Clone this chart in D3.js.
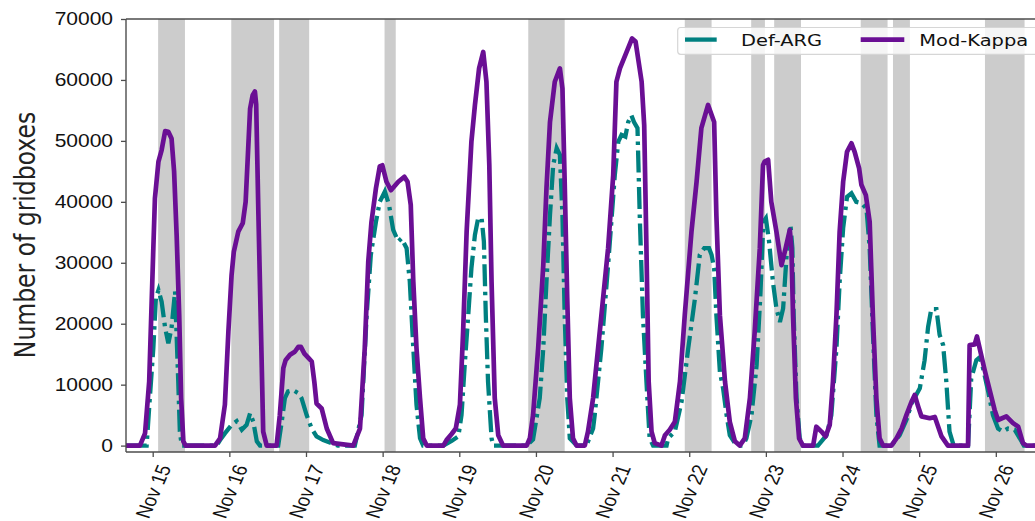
<!DOCTYPE html>
<html>
<head>
<meta charset="utf-8">
<script src="https://cdn.jsdelivr.net/npm/d3@7"></script>
<style>
  body { margin: 0; background: #fff; }
  svg { display: block; font-family: "DejaVu Sans", sans-serif; }
</style>
</head>
<body>
<div id="chart"></div>
<script>
// time is in hours after Nov 15 00:00
const modHours = [
  -8.4, -4.0, -2.4, -1.1, 0.2, 0.7, 1.8, 2.8, 3.9, 4.9, 5.9, 6.7, 7.5, 8.3, 8.9, 9.6, 10.3,
  19.5, 21.1, 22.6, 23.7, 24.7, 25.4, 26.8, 28.2, 29.1, 30.5, 31.3, 32.0, 32.4, 33.1, 34.6, 35.7,
  38.8, 39.8, 40.9, 41.6, 43.0, 44.5, 45.6, 46.4, 47.5, 48.9, 49.8, 50.6, 51.3, 52.9, 54.5, 56.5,
  62.8, 64.9, 66.4, 67.5, 68.5, 69.9, 71.1, 71.9, 73.2, 74.6, 76.9, 78.8, 79.8, 80.8, 81.6, 82.6, 83.7, 84.7, 85.8,
  91.0, 92.0, 93.6, 94.9, 96.2, 97.2, 98.3, 99.8, 100.9, 102.2, 103.5, 104.5, 105.4, 106.1, 107.1, 108.2, 109.7,
  117.1, 118.1, 119.1, 120.7, 122.3, 123.3, 124.4, 125.9, 127.5, 128.3, 129.0, 129.8, 130.6, 131.6, 132.7,
  135.3, 136.3, 137.9, 140.5, 142.6, 144.2, 145.2, 146.3, 148.4, 150.1, 151.2, 153.1, 153.9, 154.6, 155.3, 156.2, 157.2, 159.3,
  160.4, 161.9, 163.5, 165.1, 166.6, 168.7, 170.3, 171.8, 173.9, 175.8, 176.5, 177.6, 179.2, 180.7, 182.3, 183.8,
  185.4, 187.0, 188.5, 190.1, 191.1, 191.6, 192.7, 193.7, 195.3, 196.9, 198.2, 199.5, 200.0, 200.5, 201.4, 202.4, 203.6,
  206.8, 207.8, 209.4, 210.7, 212.0, 213.0, 214.1, 215.1, 216.2, 217.4, 218.8, 219.8, 221.2, 221.9, 223.3, 224.5, 225.5, 226.6, 227.6, 228.7,
  231.3, 232.9, 234.5, 236.0, 237.6, 238.6, 239.7, 240.7, 243.3, 244.9, 247.0, 249.0,
  255.3, 255.8, 257.4, 258.1, 260.5, 263.6, 264.7, 267.3, 269.4, 271.0, 272.5, 273.6, 280
];
const modValues = [
  0, 0, 2000, 10500, 32400, 40600, 46600, 48500, 51600, 51500, 50400, 45000, 34500, 21400, 7800, 700, 0,
  0, 1200, 6700, 18700, 28000, 31800, 35100, 36500, 40000, 55300, 57500, 58100, 56000, 38000, 2300, 0,
  0, 5000, 12700, 14000, 14900, 15400, 16200, 16200, 15100, 14300, 13800, 10500, 6900, 6100, 2800, 400,
  0, 2800, 16000, 30200, 36700, 42200, 45800, 46000, 43300, 41900, 43300, 44100, 43300, 39500, 26900, 16000, 7800, 1200, 0,
  0, 900, 1900, 2800, 6700, 18700, 35100, 49900, 55900, 61900, 64600, 59700, 46000, 26900, 7800, 1700, 0,
  0, 1200, 5000, 16000, 29600, 42200, 53100, 59700, 61900, 58600, 43300, 24200, 7800, 1200, 0,
  0, 2300, 7800, 21400, 32400, 44400, 59700, 61900, 64600, 66800, 66300, 59700, 52600, 32400, 10500, 2300, 400, 0,
  1700, 2600, 3900, 10500, 21400, 35100, 43300, 52100, 55900, 53100, 37800, 21400, 10500, 3900, 700, 0,
  1200, 7800, 18700, 32400, 46000, 46600, 46900, 40000, 35100, 29600, 32400, 35400, 32400, 21400, 7800, 1200, 0,
  0, 3100, 2300, 1500, 3400, 10500, 21400, 35100, 43300, 48200, 49600, 48200, 45500, 42800, 41100, 36700, 21400, 7800, 1200, 0,
  0, 1200, 2800, 5000, 7200, 8300, 6400, 4800, 4500, 4700, 1500, 0,
  0, 16500, 16600, 17900, 12400, 5900, 4200, 4800, 3700, 3100, 400, 0, 0
];

const defHours = [
  -8.4, -1.9, -0.9, 0.2, 1.0, 1.8, 2.8, 3.9, 4.9, 5.9, 7.0, 8.0, 8.5, 9.1,
  20.0, 21.1, 22.6, 24.7, 26.3, 27.9, 29.4, 30.5, 31.5, 32.6, 33.6,
  39.3, 40.4, 41.4, 42.4, 44.0, 45.6, 46.6, 48.2, 49.8, 51.3, 53.4, 56.0, 58.0,
  63.3, 65.4, 67.0, 68.3, 69.9, 71.1, 72.7, 74.0, 75.3, 76.9, 77.9, 79.5, 80.5, 81.6, 82.6, 83.7, 84.7,
  91.0, 93.7, 95.7, 96.7, 97.7, 98.8, 99.8, 100.9, 101.9, 103.0, 103.7, 104.3, 105.0, 106.1, 106.6,
  117.1, 119.1, 121.2, 122.3, 123.3, 124.4, 125.4, 126.5, 127.5, 128.3, 129.0, 129.8, 130.6, 132.8,
  135.8, 137.9, 138.4, 140.5, 142.6, 144.7, 145.8, 146.8, 148.0, 148.9, 149.9, 150.7, 151.8, 152.5, 153.5, 154.6, 155.6, 156.7,
  160.9, 161.4, 163.5, 165.6, 167.7, 169.8, 171.3, 172.7, 174.2, 175.0, 175.8, 176.5, 177.6, 178.6, 179.7, 180.7, 182.3, 183.3,
  184.8, 185.9, 187.5, 189.1, 190.3, 191.2, 192.0, 193.0, 194.2, 195.3, 196.4, 197.4, 198.5, 199.7, 200.3, 200.7, 201.6, 202.6, 203.6,
  208.3, 211.0, 212.5, 214.1, 215.1, 216.2, 217.4, 218.8, 220.3, 221.9, 223.5, 224.5, 225.5, 226.6, 227.6,
  231.3, 233.9, 236.0, 237.6, 240.2, 241.7, 242.8, 243.8, 245.4, 246.4, 247.5, 248.5, 249.5, 250.8,
  255.3, 256.3, 257.9, 259.0, 260.0, 261.6, 263.1, 264.7, 266.2, 267.8, 269.9, 271.5, 272.8, 280
];
const defValues = [
  0, 0, 7800, 16000, 24200, 25500, 23600, 19300, 16800, 19300, 25300, 10500, 2300, 0,
  0, 900, 2000, 3400, 4000, 2600, 3400, 5300, 3900, 700, 0,
  0, 3900, 7800, 8900, 9100, 8600, 7800, 5000, 2800, 1500, 900, 400, 0,
  0, 5000, 21400, 31300, 36700, 40000, 41700, 39500, 35400, 33500, 34000, 32400, 26900, 16000, 6700, 1200, 0,
  0, 800, 1500, 5000, 13200, 21400, 29100, 34600, 37300, 37300, 33500, 21400, 10500, 1200, 0,
  0, 1000, 7800, 16000, 26900, 37800, 46000, 48800, 47700, 37800, 21400, 7800, 1200, 0,
  0, 2800, 5000, 16000, 29600, 44400, 49900, 51000, 50700, 53100, 54200, 53100, 52100, 37800, 21400, 10500, 1200, 0,
  0, 1200, 2300, 7200, 16000, 24200, 31300, 32400, 32400, 31300, 29100, 21400, 12100, 9400, 5000, 1700, 400, 0,
  0, 1200, 5000, 13200, 25000, 36700, 37300, 33500, 26900, 22500, 20300, 22500, 31300, 36200, 32400, 21400, 7800, 1200, 0,
  0, 1700, 5000, 16000, 26900, 35700, 40800, 41400, 40000, 39800, 38900, 32400, 18700, 5000, 0,
  0, 1700, 4200, 6900, 9400, 14000, 19500, 22400, 22400, 18200, 16500, 10500, 2300, 0,
  0, 11000, 14000, 14500, 12700, 8900, 5000, 2800, 2300, 2800, 2600, 1200, 0, 0
];

// shaded periods
const nightStart = [1.7, 24.6, 39.6, 72.6, 117.6, 166.6, 187.4, 194.6, 221.7, 231.8, 260.6];
const nightEnd = [10.1, 38.0, 49.0, 76.1, 129.0, 175.0, 191.7, 203.0, 230.1, 237.1, 273.0];

const dayTicks = [0, 24, 48, 72, 96, 120, 144, 168, 192, 216, 240, 264];
const dayLabels = ["Nov 15", "Nov 16", "Nov 17", "Nov 18", "Nov 19", "Nov 20",
  "Nov 21", "Nov 22", "Nov 23", "Nov 24", "Nov 25", "Nov 26"];
const yTicks = [0, 10000, 20000, 30000, 40000, 50000, 60000, 70000];

const seriesNames = ["Def-ARG", "Mod-Kappa"];
const seriesColors = ["#008080", "#6a0f94"];

document.addEventListener("DOMContentLoaded", function () {
  const width = 1035, height = 521;
  const stretch = 1.2; // text in the picture is drawn a bit wide
  const left = 126, top = 19, bottom = 452, right = 1045;

  const svg = d3.select("#chart")
    .append("svg")
    .attr("width", width)
    .attr("height", height);

  const x = d3.scaleLinear().domain([-8.36, 279.4]).range([left, right]);
  const y = d3.scaleLinear().domain([-1050, 70000]).range([bottom, top]);

  svg.append("defs").append("clipPath")
    .attr("id", "plot-clip")
    .append("rect")
    .attr("x", left).attr("y", top)
    .attr("width", right - left).attr("height", bottom - top);

  // Shaded spans
  svg.append("g")
    .selectAll("rect")
    .data(d3.zip(nightStart, nightEnd))
    .enter()
    .append("rect")
    .attr("x", d => x(d[0]))
    .attr("y", top)
    .attr("width", d => x(d[1]) - x(d[0]))
    .attr("height", bottom - top)
    .style("fill", "#cccccc");

  // Lines
  const line = d3.line().x(d => x(d[0])).y(d => y(d[1]));
  const plot = svg.append("g").attr("clip-path", "url(#plot-clip)");

  plot.append("path")
    .datum(d3.zip(defHours, defValues))
    .attr("d", line)
    .style("fill", "none")
    .style("stroke", seriesColors[0])
    .style("stroke-width", 4.3)
    .style("stroke-dasharray", "22 5.5 3.5 5.5");

  plot.append("path")
    .datum(d3.zip(modHours, modValues))
    .attr("d", line)
    .style("fill", "none")
    .style("stroke", seriesColors[1])
    .style("stroke-width", 4.7)
    .style("stroke-linejoin", "round");

  // Axes
  const yAxis = svg.append("g")
    .attr("transform", `translate(${left},0)`)
    .call(d3.axisLeft(y).tickValues(yTicks).tickSize(5).tickFormat(d3.format("d")));
  yAxis.select(".domain").remove();
  yAxis.selectAll("line").style("stroke", "#4d4d4d").style("stroke-width", 1.3);
  yAxis.selectAll("text")
    .attr("x", -13 / stretch)
    .attr("transform", `scale(${stretch},1)`)
    .style("font-size", "17.5px")
    .style("fill", "#111");

  const xAxis = svg.append("g")
    .attr("transform", `translate(0,${bottom})`)
    .call(d3.axisBottom(x).tickValues(dayTicks).tickSize(5).tickFormat((d, i) => dayLabels[i]));
  xAxis.select(".domain").remove();
  xAxis.selectAll("line").style("stroke", "#4d4d4d").style("stroke-width", 1.3);
  xAxis.selectAll("text")
    .attr("y", 0)
    .attr("dy", "0.35em")
    .attr("text-anchor", "middle")
    .attr("transform", `translate(0,39.5) scale(${stretch},1) rotate(-70)`)
    .style("font-size", "17.5px")
    .style("fill", "#111");

  // Spines
  const spines = [[left, top, left, bottom], [left, bottom, right, bottom], [left, top, right, top]];
  svg.append("g")
    .selectAll("line")
    .data(spines)
    .enter()
    .append("line")
    .attr("x1", d => d[0]).attr("y1", d => d[1])
    .attr("x2", d => d[2]).attr("y2", d => d[3])
    .style("stroke", "#4d4d4d")
    .style("stroke-width", 1.4);

  // Y label
  svg.append("text")
    .attr("transform", `translate(35,235) scale(${stretch},1) rotate(-90)`)
    .attr("text-anchor", "middle")
    .style("font-size", "23.5px")
    .style("fill", "#222")
    .text("Number of gridboxes");

  // Legend
  const legend = svg.append("g");
  legend.append("rect")
    .attr("x", 677.7).attr("y", 27.5)
    .attr("width", 380).attr("height", 26.8)
    .attr("rx", 3)
    .style("fill", "#fff")
    .style("fill-opacity", 0.8)
    .style("stroke", "#d6d6d6")
    .style("stroke-width", 1.2);

  const handleX = [685, 860.7];
  const textX = [741, 919.3];
  seriesNames.forEach((name, i) => {
    legend.append("line")
      .attr("x1", handleX[i]).attr("x2", handleX[i] + 43.6)
      .attr("y1", 39.6).attr("y2", 39.6)
      .style("stroke", seriesColors[i])
      .style("stroke-width", i === 0 ? 4.3 : 4.7)
      .style("stroke-dasharray", i === 0 ? "31.7 30" : null);
    legend.append("text")
      .attr("transform", `translate(${textX[i]},45.5) scale(${stretch},1)`)
      .style("font-size", "16.2px")
      .style("fill", "#111")
      .text(name);
  });
});
</script>
</body>
</html>
